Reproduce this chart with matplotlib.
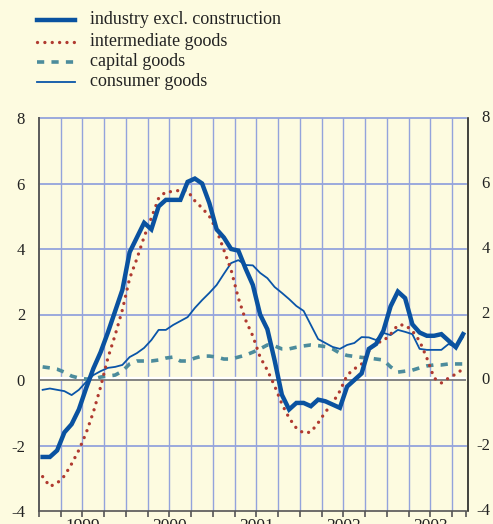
import matplotlib
matplotlib.use("Agg")
import matplotlib.pyplot as plt
from matplotlib.lines import Line2D
import matplotlib.transforms as mtransforms
import numpy as np

plt.rcParams['font.family'] = ['Liberation Serif', 'DejaVu Serif']
plt.rcParams['axes.unicode_minus'] = False

# Monthly data, Jan 1999 - Nov 2003
years = ['1999', '2000', '2001', '2002', '2003']
n_months = 59

industry = [-2.35, -2.35, -2.15, -1.6, -1.35, -0.9, -0.25, 0.35, 0.85, 1.45,
            2.1, 2.75, 3.9, 4.35, 4.8, 4.6, 5.3, 5.5, 5.5, 5.5,
            6.05, 6.15, 6.0, 5.4, 4.6, 4.35, 4.0, 3.95, 3.4, 2.9,
            2.0, 1.55, 0.6, -0.45, -0.9, -0.7, -0.7, -0.8, -0.6, -0.65,
            -0.75, -0.85, -0.2, 0.0, 0.2, 0.95, 1.1, 1.5, 2.25, 2.7,
            2.5, 1.7, 1.45, 1.35, 1.35, 1.4, 1.2, 1.0, 1.4]

intermediate = [-2.95, -3.25, -3.15, -2.93, -2.56, -2.14, -1.62, -0.98, -0.21, 0.67,
                1.37, 2.14, 3.1, 3.7, 4.37, 4.95, 5.55, 5.75, 5.75, 5.8,
                5.77, 5.47, 5.25, 5.0, 4.58, 3.97, 3.36, 2.5, 1.83, 1.34,
                0.7, 0.3, -0.18, -0.73, -1.16, -1.47, -1.62, -1.59, -1.31, -0.98,
                -0.7, -0.34, 0.15, 0.34, 0.49, 0.89, 1.13, 1.19, 1.4, 1.68,
                1.68, 1.5, 1.19, 0.67, 0.06, -0.09, 0.06, 0.18, 0.34]

capital = [0.4, 0.37, 0.33, 0.24, 0.12, 0.06, 0.03, 0.03, 0.09, 0.12,
           0.15, 0.27, 0.49, 0.58, 0.58, 0.58, 0.61, 0.67, 0.7, 0.58,
           0.58, 0.67, 0.73, 0.73, 0.7, 0.64, 0.64, 0.7, 0.76, 0.85,
           0.95, 1.07, 1.04, 0.95, 0.95, 1.0, 1.04, 1.07, 1.05, 1.02,
           0.95, 0.82, 0.75, 0.72, 0.69, 0.67, 0.64, 0.61, 0.4, 0.24,
           0.27, 0.3, 0.37, 0.43, 0.46, 0.46, 0.49, 0.49, 0.49]

consumer = [-0.3, -0.26, -0.3, -0.34, -0.46, -0.3, -0.06, 0.15, 0.27, 0.37,
            0.4, 0.46, 0.7, 0.82, 0.98, 1.22, 1.53, 1.53, 1.68, 1.8,
            1.92, 2.2, 2.44, 2.66, 2.9, 3.24, 3.57, 3.66, 3.51, 3.5,
            3.27, 3.11, 2.84, 2.66, 2.47, 2.26, 2.11, 1.68, 1.25, 1.13,
            1.01, 0.95, 1.07, 1.13, 1.31, 1.3, 1.22, 1.44, 1.37, 1.53,
            1.47, 1.4, 0.95, 0.92, 0.92, 0.92, 1.1, 1.0, 1.31]

labels = ['industry excl. construction', 'intermediate goods', 'capital goods', 'consumer goods']
yticks = [-4, -2, 0, 2, 4, 6, 8]

BG = '#FDFBE0'
C_IND = '#0A52A0'
C_INT = '#B03A30'
C_CAP = '#4C8C9C'
C_CON = '#0A55A8'
GRID = '#93A3DC'
TXT = '#222222'

W, H = 493, 524
fig = plt.figure(figsize=(W / 100, H / 100), dpi=100, facecolor=BG)
L, R, T, B = 39, 466, 118, 511
ax = fig.add_axes([L / W, 1 - B / H, (R - L) / W, (B - T) / H], facecolor=BG)

x = np.arange(n_months) + 0.5
ax.set_xlim(0, 58.9)
ax.set_ylim(-4, 8)

# grid
for q in range(3, 58, 3):
    ax.axvline(q, color=GRID, lw=1.0, zorder=1)
for yv in [-2, 2, 4, 6, 8]:
    ax.axhline(yv, color=GRID, lw=1.3, zorder=1, clip_on=False)
ax.axhline(0.05, color='white', lw=1.6, zorder=1.5)
ax.axhline(0, color='#7A7A7A', lw=1.3, zorder=1.6)

ax.plot(x, capital, color=C_CAP, lw=2.6, linestyle=(0, (2.0, 2.0)), zorder=2)
ax.plot(x, consumer, color=C_CON, lw=1.3, zorder=3)
ax.plot(x, intermediate, color=C_INT, lw=2.4, linestyle=(0, (0.01, 2.2)),
        dash_capstyle='round', zorder=4)
ax.plot(x, industry, color=C_IND, lw=3.2, solid_joinstyle='miter', zorder=5)

# spines
ax.spines['top'].set_visible(False)
ax.spines['left'].set_color('#5A5A5A')
ax.spines['left'].set_linewidth(1.4)
ax.spines['bottom'].set_color('#555555')
ax.spines['bottom'].set_linewidth(1.2)
ax.spines['right'].set_color('#222222')
ax.spines['right'].set_linewidth(1.2)
ax.spines['right'].set_position(('outward', 1.5))

ax.set_yticks(yticks)
ax.set_yticklabels([str(v) for v in yticks])
ax.tick_params(axis='y', length=0, labelsize=12, pad=10, colors=TXT)

# right-hand labels (same scale), right-aligned near the figure edge
tr_r = mtransforms.blended_transform_factory(fig.transFigure, ax.transData)
for v in yticks:
    ax.text(490 / W, v, str(v), transform=tr_r, ha='right', va='center',
            fontsize=12, color=TXT, clip_on=False)

ax.set_xticks(list(range(0, 58, 3)) + [58.9])
ax.set_xticklabels([])
ax.tick_params(axis='x', length=4, width=1.2, direction='out', color='#555555')

# year labels (partly cut off at the bottom edge, as in the reference)
tr = mtransforms.blended_transform_factory(ax.transData, fig.transFigure)
for i, yr in enumerate(years):
    ax.text(i * 12 + 6, 1 - 518 / H, yr, transform=tr, ha='center', va='top',
            fontsize=12.5, color=TXT, clip_on=False)

# legend
styles = [dict(color=C_IND, lw=3.2),
          dict(color=C_INT, lw=2.4, linestyle=(0, (0.01, 2.2)), dash_capstyle='round'),
          dict(color=C_CAP, lw=2.6, linestyle=(0, (2.0, 2.0))),
          dict(color=C_CON, lw=1.3)]
rows = [20, 41.5, 62, 82]
for lab, st, yy in zip(labels, styles, rows):
    fy = 1 - yy / H
    fig.add_artist(Line2D([37 / W, 75 / W], [fy, fy], transform=fig.transFigure, **st))
    fig.text(90 / W, fy, lab, ha='left', va='center', fontsize=13, color=TXT)

fig.savefig('out.png', dpi=100, facecolor=BG)
